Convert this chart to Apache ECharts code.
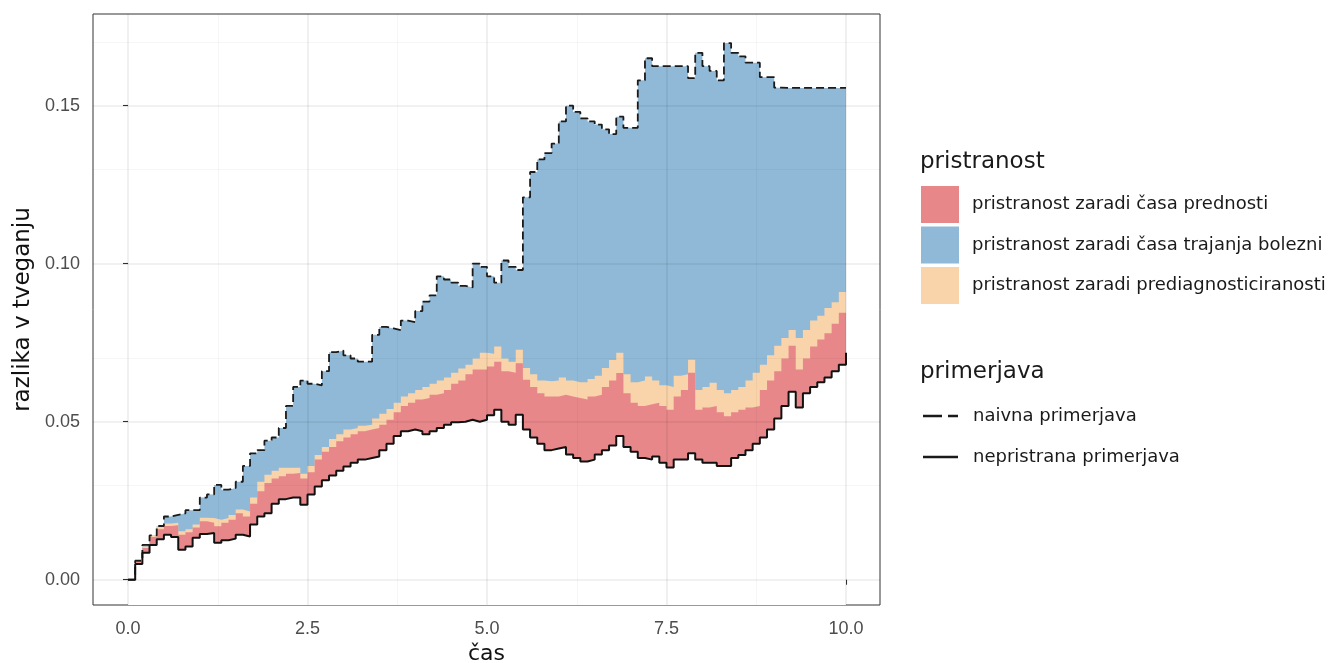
<!DOCTYPE html>
<html><head><meta charset="utf-8">
<script src="https://cdn.jsdelivr.net/npm/echarts@6/dist/echarts.min.js"></script>
<style>html,body{margin:0;padding:0;background:#fff}#c{width:1342px;height:663px}</style>
</head><body><div id="c"></div>
<script>
// x values (čas)
const times = [0.0,0.1,0.2,0.3,0.4,0.5,0.6,0.7,0.8,0.9,
 1.0,1.1,1.2,1.3,1.4,1.5,1.6,1.7,1.8,1.9,
 2.0,2.1,2.2,2.3,2.4,2.5,2.6,2.7,2.8,2.9,
 3.0,3.1,3.2,3.3,3.4,3.5,3.6,3.7,3.8,3.9,
 4.0,4.1,4.2,4.3,4.4,4.5,4.6,4.7,4.8,4.9,
 5.0,5.1,5.2,5.3,5.4,5.5,5.6,5.7,5.8,5.9,
 6.0,6.1,6.2,6.3,6.4,6.5,6.6,6.7,6.8,6.9,
 7.0,7.1,7.2,7.3,7.4,7.5,7.6,7.7,7.8,7.9,
 8.0,8.1,8.2,8.3,8.4,8.5,8.6,8.7,8.8,8.9,
 9.0,9.1,9.2,9.3,9.4,9.5,9.6,9.7,9.8,9.9,
 10.0];
// naivna primerjava (dashed, top of blue)
const naive = [0.000,0.006,0.011,0.014,0.017,0.020,0.0205,0.021,0.022,0.022,
 0.026,0.027,0.030,0.0285,0.029,0.031,0.036,0.040,0.041,0.044,
 0.045,0.048,0.055,0.061,0.063,0.062,0.0615,0.066,0.072,0.0725,
 0.071,0.070,0.069,0.069,0.0775,0.080,0.0795,0.079,0.082,0.0815,
 0.085,0.088,0.090,0.096,0.095,0.094,0.093,0.0925,0.100,0.099,
 0.096,0.094,0.101,0.099,0.098,0.121,0.129,0.133,0.135,0.138,
 0.145,0.150,0.148,0.146,0.145,0.144,0.1425,0.141,0.1465,0.143,
 0.143,0.158,0.165,0.1625,0.1625,0.1625,0.1625,0.1625,0.1587,0.1667,
 0.1625,0.161,0.158,0.1698,0.1667,0.1656,0.1636,0.1636,0.159,0.159,
 0.1557,0.1556,0.1556,0.1556,0.1556,0.1556,0.1556,0.1556,0.1556,0.1556,
 0.1556];
// nepristrana primerjava (solid, bottom of red)
const unbiased = [0.000,0.005,0.0085,0.011,0.0128,0.0142,0.0135,0.0095,0.0105,0.0133,
 0.0145,0.0148,0.0117,0.0125,0.013,0.0142,0.0137,0.0175,0.020,0.021,
 0.024,0.0255,0.026,0.026,0.0237,0.027,0.0295,0.0315,0.033,0.0345,
 0.0358,0.037,0.038,0.0385,0.039,0.041,0.043,0.0455,0.047,0.0475,
 0.047,0.046,0.047,0.048,0.049,0.0498,0.050,0.0506,0.050,0.0506,
 0.052,0.0538,0.050,0.049,0.0522,0.0475,0.045,0.043,0.041,0.0415,
 0.042,0.0396,0.0385,0.0374,0.038,0.0396,0.041,0.0425,0.0455,0.042,
 0.0405,0.0385,0.038,0.039,0.037,0.0355,0.038,0.038,0.040,0.038,
 0.037,0.037,0.036,0.036,0.0385,0.0395,0.041,0.043,0.045,0.0475,
 0.051,0.055,0.0595,0.0545,0.059,0.061,0.0625,0.064,0.066,0.068,
 0.0718];
// upper edge of red band (čas prednosti)
const leadTop = [0.000,0.0055,0.010,0.0135,0.016,0.017,0.0172,0.0142,0.015,0.0165,
 0.0185,0.018,0.0169,0.018,0.019,0.021,0.020,0.024,0.028,0.0306,
 0.032,0.0327,0.0335,0.0338,0.032,0.034,0.038,0.0405,0.042,0.0438,
 0.045,0.046,0.047,0.0475,0.048,0.049,0.0506,0.053,0.055,0.056,
 0.057,0.0575,0.0585,0.059,0.060,0.062,0.063,0.065,0.0665,0.0665,
 0.0675,0.069,0.066,0.0655,0.0685,0.0633,0.061,0.059,0.058,0.058,
 0.0585,0.058,0.0575,0.057,0.058,0.0585,0.061,0.063,0.0654,0.059,
 0.056,0.055,0.0555,0.056,0.055,0.0538,0.058,0.060,0.0655,0.0538,
 0.0545,0.055,0.053,0.0517,0.053,0.0538,0.0545,0.055,0.060,0.063,
 0.066,0.070,0.074,0.0665,0.070,0.0738,0.076,0.078,0.081,0.0845,
 0.0908];
// upper edge of peach band (prediagnosticiranost)
const overTop = [0.000,0.006,0.0105,0.014,0.0169,0.0178,0.018,0.0153,0.016,0.0175,
 0.0196,0.0195,0.019,0.0195,0.0205,0.0222,0.0216,0.026,0.031,0.0332,
 0.0345,0.0354,0.0354,0.0354,0.0335,0.036,0.0395,0.042,0.0445,0.046,
 0.0475,0.048,0.0487,0.049,0.051,0.0525,0.054,0.056,0.058,0.059,
 0.060,0.061,0.062,0.063,0.064,0.0655,0.0668,0.068,0.070,0.0718,
 0.0715,0.0738,0.070,0.069,0.0728,0.067,0.065,0.063,0.0628,0.063,
 0.064,0.063,0.0625,0.0625,0.0635,0.0645,0.067,0.0695,0.0718,0.065,
 0.0625,0.063,0.0643,0.063,0.0615,0.061,0.0645,0.065,0.0696,0.060,
 0.061,0.0623,0.060,0.059,0.060,0.061,0.063,0.0655,0.068,0.071,
 0.074,0.0765,0.079,0.0765,0.079,0.082,0.0835,0.086,0.0878,0.091,
 0.098];

const xTicks = [0, 2.5, 5, 7.5, 10];
const xMinor = [1.25, 3.75, 6.25, 8.75];
const yTicks = [0, 0.05, 0.10, 0.15];
const yMinor = [0.025, 0.075, 0.125, 0.175];

const fillNames = ['pristranost zaradi časa prednosti',
                   'pristranost zaradi časa trajanja bolezni',
                   'pristranost zaradi prediagnosticiranosti'];
const lineNames = ['naivna primerjava', 'nepristrana primerjava'];
const legendTitles = ['pristranost', 'primerjava'];

const RED = '#E8878A', BLUE = '#8FB9D7', PEACH = '#F9D3A9';
const FONT = 'Liberation Sans, Arial, sans-serif';
const FONT2 = 'DejaVu Sans, sans-serif';

const pairs = arr => times.map((x, i) => [x, arr[i]]);

const major = {color: 'rgba(0,0,0,0.075)', width: 1.6, type: 'solid'};
const minor = {color: 'rgba(0,0,0,0.045)', width: 0.9, type: 'solid'};
const gridLines = [].concat(
  xMinor.map(v => ({xAxis: v, lineStyle: minor})),
  yMinor.map(v => ({yAxis: v, lineStyle: minor})),
  xTicks.map(v => ({xAxis: v, lineStyle: major})),
  yTicks.map(v => ({yAxis: v, lineStyle: major}))
);

function band(name, arr, color, z) {
  return {type: 'line', name: name, step: 'end', symbol: 'none', silent: true,
    data: pairs(arr), lineStyle: {width: 0, opacity: 0}, itemStyle: {color: color},
    areaStyle: {color: color, opacity: 1, origin: 'start'}, z: z};
}

const chart = echarts.init(document.getElementById('c'), null, {renderer: 'canvas'});
chart.setOption({
  animation: false,
  backgroundColor: '#fff',
  grid: {left: 93, right: 462, top: 14, bottom: 58, show: true, outerBoundsMode: 'none',
         containLabel: false,
         borderColor: '#333', borderWidth: 1, backgroundColor: '#fff'},
  xAxis: {
    type: 'value', min: -0.48747, max: 10.47354,
    splitLine: {show: false}, axisLine: {show: false},
    axisTick: {show: true, customValues: xTicks, length: 5, lineStyle: {color: '#333', width: 1.1}},
    axisLabel: {customValues: xTicks, formatter: v => v.toFixed(1), fontSize: 18,
                color: '#4d4d4d', margin: 15, fontFamily: FONT},
    name: 'čas', nameLocation: 'middle', nameGap: 36,
    nameTextStyle: {fontSize: 22, color: '#111', fontFamily: FONT2}
  },
  yAxis: {
    type: 'value', min: -0.008, max: 0.179,
    splitLine: {show: false}, axisLine: {show: false},
    axisTick: {show: true, customValues: yTicks, length: 5, lineStyle: {color: '#333', width: 1.1}},
    axisLabel: {customValues: yTicks, formatter: v => v.toFixed(2), fontSize: 18,
                color: '#4d4d4d', margin: 13, fontFamily: FONT},
    name: 'razlika v tveganju', nameLocation: 'middle', nameGap: 36, nameRotate: 90,
    nameTextStyle: {fontSize: 23, color: '#111', fontFamily: FONT2}
  },
  legend: [{
    left: 921, top: 186, orient: 'vertical', itemWidth: 38, itemHeight: 37, itemGap: 3.5,
    icon: 'rect', selectedMode: false, padding: 0,
    itemStyle: {borderWidth: 0},
    data: [
      {name: fillNames[0], itemStyle: {color: RED}},
      {name: fillNames[1], itemStyle: {color: BLUE}},
      {name: fillNames[2], itemStyle: {color: PEACH}}
    ],
    textStyle: {fontSize: 18, color: '#1a1a1a', fontFamily: FONT2, padding: [0, 0, 0, 8]}
  }, {
    left: 923, top: 407, orient: 'vertical', itemWidth: 35, itemHeight: 2.5, itemGap: 23,
    selectedMode: false, padding: 0, symbolKeepAspect: false,
    itemStyle: {borderWidth: 0},
    data: [
      {name: lineNames[0], icon: 'path://M0,0H19V2H0Z M25,0H35V2H25Z', itemStyle: {color: '#1a1a1a'}},
      {name: lineNames[1], icon: 'path://M0,0H35V2H0Z', itemStyle: {color: '#1a1a1a'}}
    ],
    textStyle: {fontSize: 18, color: '#1a1a1a', fontFamily: FONT2, padding: [0, 0, 0, 10]}
  }],
  graphic: [
    {type: 'text', left: 920, top: 151, style: {text: legendTitles[0], fontSize: 23, fontFamily: FONT2, fill: '#1a1a1a'}},
    {type: 'text', left: 920, top: 361, style: {text: legendTitles[1], fontSize: 23, fontFamily: FONT2, fill: '#1a1a1a'}}
  ],
  series: [
    band(fillNames[1], naive, BLUE, 2),
    band(fillNames[2], overTop, PEACH, 3),
    band(fillNames[0], leadTop, RED, 4),
    Object.assign(band('_below', unbiased, '#ffffff', 5), {
      markLine: {silent: true, symbol: ['none', 'none'], label: {show: false}, z: 6,
                 animation: false, data: gridLines}}),
    {type: 'line', name: lineNames[0], step: 'end', symbol: 'none',
     data: pairs(naive), itemStyle: {color: '#1a1a1a'},
     lineStyle: {color: '#1a1a1a', width: 1.8, type: [8, 4]}, z: 7},
    {type: 'line', name: lineNames[1], step: 'end', symbol: 'none',
     data: pairs(unbiased), itemStyle: {color: '#111'},
     lineStyle: {color: '#111', width: 2, type: 'solid'}, z: 7}
  ]
});
</script></body></html>
